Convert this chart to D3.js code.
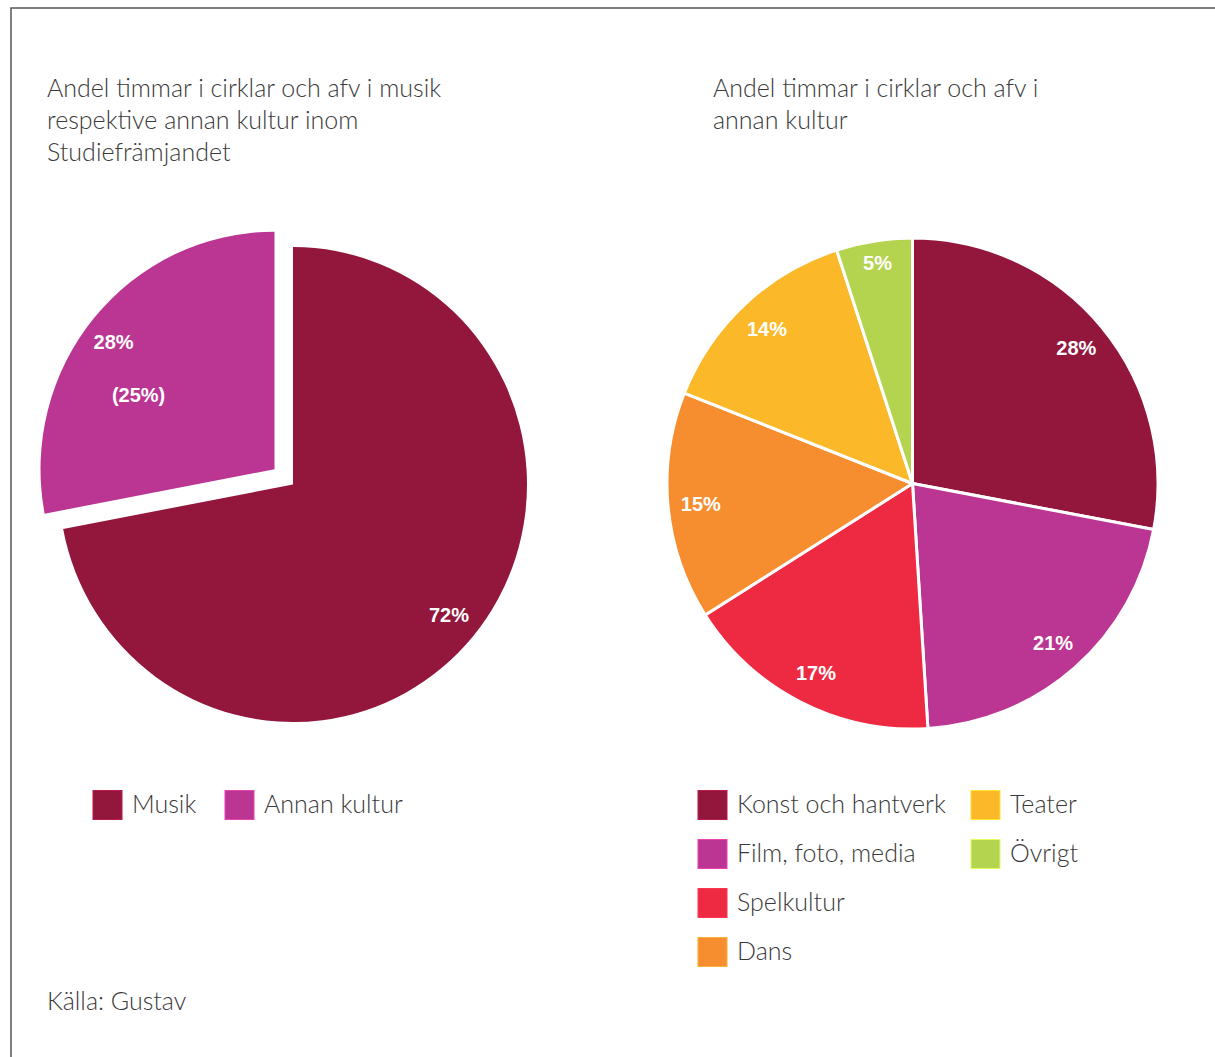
<!DOCTYPE html>
<html>
<head>
<meta charset="utf-8">
<script src="https://cdn.jsdelivr.net/npm/d3@7"></script>
<style>
  html, body { margin: 0; padding: 0; background: #fff; }
  svg { display: block; }
  .title, .legend-text, .source { font-family: "Lato", "Open Sans", sans-serif; font-weight: 300; fill: #3a3a3a; }
  .pct { font-family: "Liberation Sans", Arial, sans-serif; font-weight: bold; fill: #fff; font-size: 20px; }
</style>
</head>
<body>
<svg id="chart" width="1215" height="1057"></svg>
<script>
// Left pie data
const leftCategories = ["Musik", "Annan kultur"];
const leftValues = [72, 28];
const leftLabels = ["72%", "28%"];
const leftExtraLabel = "(25%)";
const leftColors = ["#93163c", "#bb3592"];

// Right pie data
const rightCategories = ["Konst och hantverk", "Film, foto, media", "Spelkultur", "Dans", "Teater", "Övrigt"];
const rightValues = [28, 21, 17, 15, 14, 5];
const rightLabels = ["28%", "21%", "17%", "15%", "14%", "5%"];
const rightColors = ["#93163c", "#bb3592", "#ee2a42", "#f68d2e", "#fbb829", "#b4d34e"];

const leftTitle = ["Andel timmar i cirklar och afv i musik", "respektive annan kultur inom", "Studiefrämjandet"];
const rightTitle = ["Andel timmar i cirklar och afv i", "annan kultur"];
const sourceText = "Källa: Gustav";

const svg = d3.select("#chart");

// frame
svg.append("path")
  .attr("d", "M11,1057 L11,8 L1215,8")
  .attr("fill", "none").attr("stroke", "#555").attr("stroke-width", 1.5);

// titles
function title(lines, x, y) {
  const t = svg.append("text").attr("class", "title").attr("x", x).attr("y", y).style("font-size", "25px");
  lines.forEach((l, i) => t.append("tspan").attr("x", x).attr("dy", i === 0 ? 0 : 32).text(l));
}
title(leftTitle, 47, 97);
title(rightTitle, 713, 97);

const pie = d3.pie().sort(null).value(d => d);

// Left pie (drawn slightly taller than wide, as in the reference)
const lR = 234, lCx = 293, lCy = 484.5, lSy = 1.015, explode = 24;
const lArc = d3.arc().innerRadius(0).outerRadius(lR);
const lData = pie(leftValues);
const gL = svg.append("g").attr("transform", `translate(${lCx},${lCy})`);
lData.forEach((d, i) => {
  const mid = (d.startAngle + d.endAngle) / 2;
  const off = i === 1 ? explode : 0;
  const ox = Math.sin(mid) * off, oy = -Math.cos(mid) * off;
  gL.append("path").attr("d", lArc(d)).attr("fill", leftColors[i])
    .attr("transform", `translate(${ox},${oy}) scale(1,${lSy})`);
  const labR = 0.865 * lR;
  let lx = ox + Math.sin(mid) * labR, ly = oy - Math.cos(mid) * labR * lSy;
  if (i === 1) { lx -= 5; ly += 4; }
  gL.append("text").attr("class", "pct").attr("x", lx).attr("y", ly)
    .attr("text-anchor", "middle").attr("dominant-baseline", "central").text(leftLabels[i]);
  if (i === 1) {
    gL.append("text").attr("class", "pct").attr("x", lx + 25).attr("y", ly + 53)
      .attr("text-anchor", "middle").attr("dominant-baseline", "central").text(leftExtraLabel);
  }
});

// Right pie
const rR = 245.5, rCx = 912.5, rCy = 483.5;
const rArc = d3.arc().innerRadius(0).outerRadius(rR);
const rData = pie(rightValues);
const gR = svg.append("g").attr("transform", `translate(${rCx},${rCy})`);
rData.forEach((d, i) => {
  gR.append("path").attr("d", rArc(d)).attr("fill", rightColors[i])
    .attr("stroke", "#fff").attr("stroke-width", 3).attr("stroke-linejoin", "round");
});
rData.forEach((d, i) => {
  const mid = (d.startAngle + d.endAngle) / 2;
  const small = (d.endAngle - d.startAngle) < 0.5;
  const labR = (small ? 0.91 : 0.866) * rR;
  gR.append("text").attr("class", "pct")
    .attr("x", Math.sin(mid) * labR).attr("y", -Math.cos(mid) * labR)
    .attr("text-anchor", "middle").attr("dominant-baseline", "central").text(rightLabels[i]);
});

// Legends
function legendItem(x, y, color, label) {
  svg.append("rect").attr("x", x).attr("y", y - 14.5).attr("width", 29).attr("height", 29)
    .attr("fill", color).attr("stroke", d3.color(color).brighter(0.6)).attr("stroke-width", 1);
  svg.append("text").attr("class", "legend-text").attr("x", x + 39).attr("y", y - 2)
    .attr("dominant-baseline", "central").style("font-size", "25px").text(label);
}
legendItem(93, 805, leftColors[0], leftCategories[0]);
legendItem(225, 805, leftColors[1], leftCategories[1]);

const rightLegendPos = [[698, 805], [698, 854], [698, 903], [698, 952], [971, 805], [971, 854]];
rightCategories.forEach((c, i) => legendItem(rightLegendPos[i][0], rightLegendPos[i][1], rightColors[i], c));

svg.append("text").attr("class", "source").attr("x", 47).attr("y", 1000)
  .attr("dominant-baseline", "central").style("font-size", "25px").text(sourceText);
</script>
</body>
</html>
